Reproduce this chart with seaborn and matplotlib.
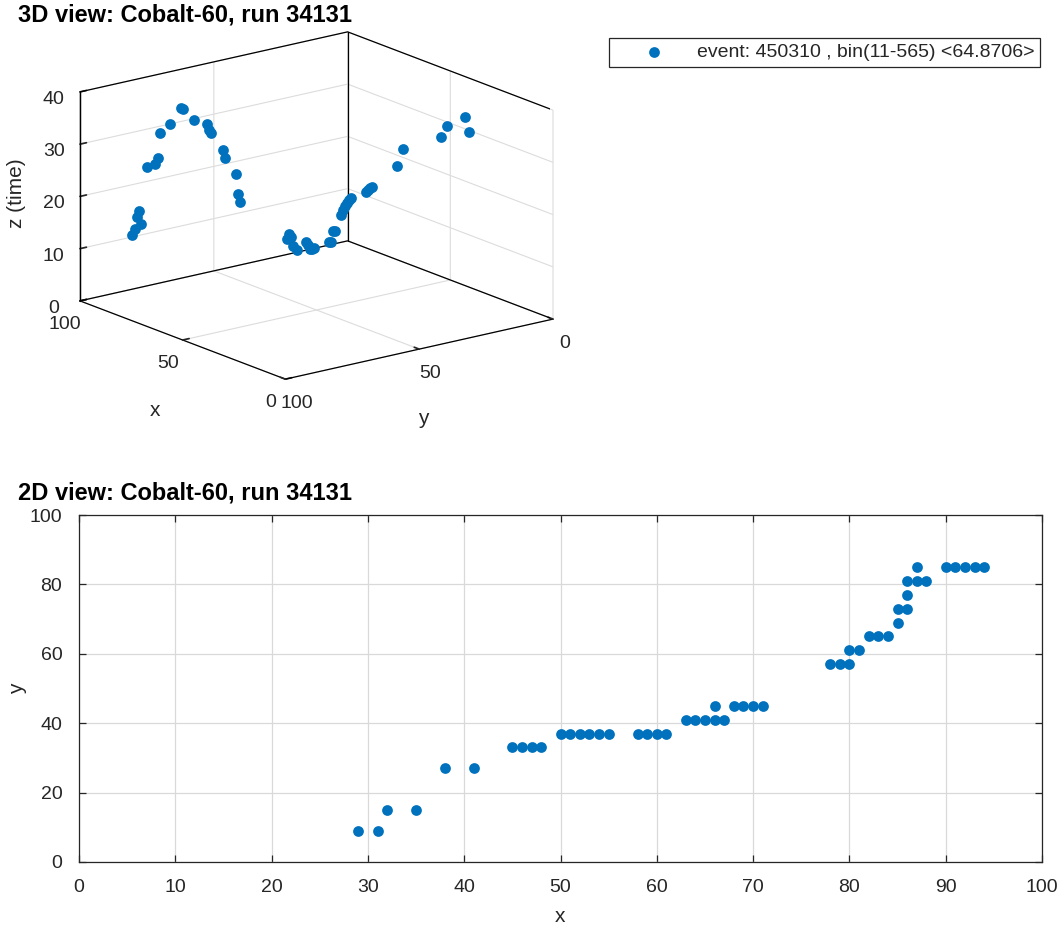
import numpy as np
import pandas as pd
import matplotlib
matplotlib.use("Agg")
import matplotlib.pyplot as plt
import seaborn as sns
from mpl_toolkits.mplot3d import proj3d

# ---------------- data ----------------
x_vals = [29, 31, 32, 35, 38, 41, 45, 46, 47, 48, 50, 51, 52, 53, 54, 55,
          58, 59, 60, 61, 63, 64, 65, 66, 67, 66, 68, 69, 70, 71,
          78, 79, 80, 80, 81, 82, 83, 84, 85, 85, 86, 86, 86, 87, 88, 87,
          90, 91, 92, 93, 94]
y_vals = [9, 9, 15, 15, 27, 27, 33, 33, 33, 33, 37, 37, 37, 37, 37, 37,
          37, 37, 37, 37, 41, 41, 41, 41, 41, 45, 45, 45, 45, 45,
          57, 57, 57, 61, 61, 65, 65, 65, 69, 73, 73, 77, 81, 81, 81, 85,
          85, 85, 85, 85, 85]
t_vals = [32.5, 35.1, 33.8, 31.3, 30.0, 26.2, 22.3, 22.0, 21.4, 21.0, 20.0, 19.4,
          18.7, 17.9, 17.1, 16.0, 12.5, 12.3, 10.0, 9.8, 8.9, 8.6, 8.3, 9.1, 9.5,
          8.5, 9.0, 10.6, 11.0, 9.9,
          17.2, 18.6, 22.3, 25.9, 27.3, 30.9, 31.2, 32.3, 33.4, 35.9, 35.9, 33.4,
          32.0, 27.2, 25.8, 25.8, 14.5, 16.9, 15.6, 13.0, 11.8]

title_3d = "3D view: Cobalt-60, run 34131"
title_2d = "2D view: Cobalt-60, run 34131"
legend_label = "event: 450310 , bin(11-565) <64.8706>"
xticks_2d = list(range(0, 101, 10))
yticks_2d = list(range(0, 101, 20))
ticks_xy_3d = [0, 50, 100]
ticks_z_3d = [0, 10, 20, 30, 40]

df = pd.DataFrame({"x": x_vals, "y": y_vals, "t": t_vals})

# ---------------- style ----------------
sns.set_theme(style="white")
plt.rcParams["font.family"] = ["Liberation Sans", "DejaVu Sans"]
plt.rcParams["grid.color"] = "#dcdcdc"
plt.rcParams["grid.linewidth"] = 0.8
plt.rcParams["axes.edgecolor"] = "#262626"
plt.rcParams["text.color"] = "#262626"
plt.rcParams["xtick.color"] = "#262626"
plt.rcParams["ytick.color"] = "#262626"

BLUE = "#0072BD"
W, H = 1059, 933
fig = plt.figure(figsize=(W / 100, H / 100), dpi=100)
fig.patch.set_facecolor("white")


def rect(l, t, w, h):
    return [l / W, 1 - (t + h) / H, w / W, h / H]


def px_text(x, y, s, **kw):
    return fig.text(x / W, 1 - y / H, s, **kw)


# ---------------- 2D view ----------------
ax2 = fig.add_axes(rect(79, 515, 963, 347))
sns.scatterplot(data=df, x="x", y="y", ax=ax2, color=BLUE, s=60,
                linewidth=0, legend=False)
ax2.set_xlim(0, 100)
ax2.set_ylim(0, 100)
ax2.set_xticks(xticks_2d)
ax2.set_yticks(yticks_2d)
ax2.grid(True, color="#d9d9d9", linewidth=0.9)
ax2.set_axisbelow(True)
for sp in ax2.spines.values():
    sp.set_visible(True)
    sp.set_color("#262626")
    sp.set_linewidth(0.9)
ax2.tick_params(direction="in", length=5, width=0.9, labelsize=14,
                colors="#262626", bottom=True, left=True, top=True, right=True,
                labeltop=False, labelright=False, pad=12)
ax2.set_xlabel("x", fontsize=15, labelpad=8)
ax2.set_ylabel("y", fontsize=15, labelpad=2)
px_text(18, 493, title_2d, fontsize=17, fontweight="bold",
        ha="left", va="center", color="black")

# ---------------- 3D view ----------------
S = 480
cx_t, cy_t = 316.5, 205.5
ax3 = fig.add_axes(rect(cx_t - S / 2, cy_t - S / 2, S, S), projection="3d",
                   proj_type="ortho")
ax3.view_init(elev=17, azim=142.5)
ax3.set_xlim(0, 100)
ax3.set_ylim(0, 100)
ax3.set_zlim(0, 40)
ax3.set_xticks(ticks_xy_3d)
ax3.set_yticks(ticks_xy_3d)
ax3.set_zticks(ticks_z_3d)

# back box edges (from the axis limits)
x0, x1 = ax3.get_xlim()
y0, y1 = ax3.get_ylim()
z0, z1 = ax3.get_zlim()
edge_kw = dict(color="black", linewidth=0.9, zorder=0)
ax3.plot([x1, x1], [y1, y1], [z0, z1], **edge_kw)
ax3.plot([x1, x1], [y0, y0], [z0, z1], **edge_kw)
ax3.plot([x0, x0], [y0, y0], [z0, z1], **edge_kw)
ax3.plot([x1, x1, x0], [y1, y0, y0], [z1, z1, z1], **edge_kw)
ax3.plot([x1, x1, x0], [y1, y0, y0], [z0, z0, z0], **edge_kw)

sc = ax3.scatter(df["x"], df["y"], df["t"], color=BLUE, s=60, depthshade=False,
                 linewidth=0, label=legend_label, zorder=5)
ax3.computed_zorder = False

for axis in (ax3.xaxis, ax3.yaxis, ax3.zaxis):
    axis.set_pane_color((1, 1, 1, 0))
    axis.pane.set_edgecolor("black")
    axis.pane.set_linewidth(0.9)
    axis.line.set_color("black")
    axis.line.set_linewidth(0.9)
    axis._axinfo["grid"].update(color="#dcdcdc", linewidth=0.8)
    axis._axinfo["tick"]["inward_factor"] = 0.0
    axis._axinfo["tick"]["outward_factor"] = 0.3
ax3.zaxis.set_ticks_position("upper")
ax3.tick_params(labelsize=14, colors="#262626", pad=2)
ax3.set_facecolor((1, 1, 1, 0))

bz = 0.65
zoom = 1.0
ax3.set_box_aspect((1, 1, bz), zoom=zoom)


def corner(x, y, z):
    M = ax3.get_proj()
    xs, ys, _ = proj3d.proj_transform(np.array([x]), np.array([y]), np.array([z]), M)
    d = ax3.transData.transform((xs[0], ys[0]))
    return d[0], H - d[1]


# fit the 3D box frame to the reference frame (layout only)
for _ in range(4):
    fig.canvas.draw()
    lx, ly = corner(x1, y1, z0)
    rx, ry = corner(x0, y0, z0)
    _, lty = corner(x1, y1, z1)
    width = rx - lx
    zlen = ly - lty
    bz *= (209 / 473) / (zlen / width)
    ax3.set_box_aspect((1, 1, bz), zoom=zoom)
    fig.canvas.draw()
    lx, ly = corner(x1, y1, z0)
    rx, ry = corner(x0, y0, z0)
    zoom *= 473 / (rx - lx)
    ax3.set_box_aspect((1, 1, bz), zoom=zoom)
    fig.canvas.draw()
    lx, ly = corner(x1, y1, z0)
    rx, ry = corner(x0, y0, z0)
    _, ty = corner(x1, y0, z1)
    _, fy = corner(x0, y1, z0)
    cx, cy = (lx + rx) / 2, (ty + fy) / 2
    pos = ax3.get_position()
    ax3.set_position([pos.x0 + (cx_t - cx) / W, pos.y0 - (cy_t - cy) / H,
                      pos.width, pos.height])

# 3D axis labels, placed like the reference
px_text(155, 410, "x", fontsize=15, ha="center", va="center")
px_text(423, 418, "y", fontsize=15, ha="center", va="center")
px_text(17, 193, "z (time)", fontsize=15, ha="center", va="center", rotation=90)

px_text(18, 15, title_3d, fontsize=17, fontweight="bold",
        ha="left", va="center", color="black")

leg = fig.legend(handles=[sc], labels=[legend_label], loc="upper right",
                 bbox_to_anchor=(1040 / W, 1 - 38 / H), borderaxespad=0,
                 fontsize=14, frameon=True, fancybox=False, framealpha=1,
                 edgecolor="#262626", handlelength=4.0, handletextpad=0.2,
                 borderpad=0.3)
leg.get_frame().set_linewidth(0.9)

fig.savefig("out.png", dpi=100, facecolor="white")
